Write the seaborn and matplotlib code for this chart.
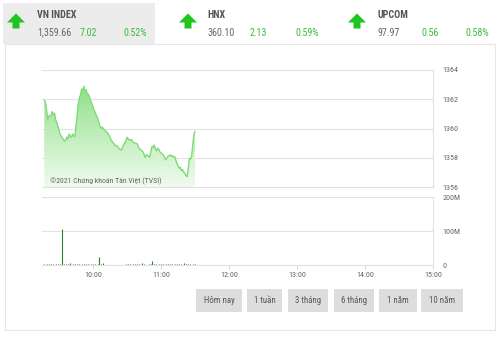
import numpy as np
import pandas as pd
import matplotlib
matplotlib.use("Agg")
import matplotlib.pyplot as plt
import seaborn as sns
from matplotlib.patches import Rectangle, Polygon, PathPatch
from matplotlib.colors import LinearSegmentedColormap

# ---------------- data ----------------
price_minutes = [17, 18, 19, 20, 21, 23, 24, 25, 26, 27, 28, 29, 30, 31, 33, 35, 36, 37, 38, 39,
                 40, 41, 42, 43, 44, 45, 46, 47, 48, 49, 50, 51, 52, 53, 54, 55, 56, 57, 58, 59,
                 61, 63, 64, 65, 66, 67, 68, 69, 70, 72, 74, 75, 76, 78, 80, 81, 83, 85, 86, 87,
                 89, 90, 91, 92, 94, 95, 96, 98, 99, 101, 102, 104, 106, 107, 108, 110, 111, 112, 113, 114,
                 115, 116, 117, 118, 119, 120, 122, 123, 124, 125, 126, 128, 129, 130, 131, 132, 133, 134, 135, 136,
                 137, 138, 139, 140, 141, 142, 143, 144, 145, 146, 147, 148, 149, 150]
price_values = [1361.95, 1361.80, 1361.30, 1360.60, 1360.85, 1360.90, 1361.15, 1360.95, 1361.05, 1360.60,
                1360.45, 1360.15, 1359.90, 1359.60, 1359.35, 1359.12, 1359.25, 1359.42, 1359.30, 1359.62,
                1359.48, 1359.40, 1359.62, 1359.50, 1359.45, 1360.20, 1360.90, 1361.70, 1362.10, 1362.30,
                1362.70, 1362.60, 1362.88, 1362.52, 1362.65, 1362.30, 1362.35, 1362.15, 1361.90, 1361.70,
                1361.25, 1360.90, 1360.75, 1360.45, 1360.20, 1360.00, 1360.10, 1360.00, 1359.90, 1359.78,
                1359.55, 1359.40, 1359.20, 1359.00, 1358.80, 1358.85, 1358.62, 1358.52, 1358.70, 1358.88,
                1359.15, 1359.40, 1359.30, 1359.20, 1359.25, 1359.10, 1359.03, 1358.98, 1358.95, 1358.60,
                1358.55, 1358.42, 1358.03, 1358.20, 1358.18, 1358.03, 1358.40, 1358.76, 1358.70, 1358.87,
                1358.60, 1358.49, 1358.65, 1358.58, 1358.40, 1358.35, 1358.19, 1358.05, 1357.85, 1357.95,
                1358.08, 1358.20, 1358.10, 1358.15, 1358.05, 1358.08, 1357.85, 1357.62, 1357.45, 1357.28,
                1357.35, 1357.12, 1357.20, 1357.00, 1356.95, 1356.78, 1356.70, 1357.20, 1357.95, 1357.90,
                1358.10, 1358.85, 1359.55, 1359.80]

vol_minutes = [17, 19, 21, 23, 25, 27, 29, 31, 32.5, 34, 36, 38, 40, 42, 44, 46, 48, 50, 52, 54,
               56, 58, 60, 62, 64, 65.5, 67, 69, 71, 73, 75, 77, 79, 81, 83, 85, 87, 89, 91, 93,
               95, 97, 99, 101, 103, 105, 107, 109, 111, 112, 114, 116, 118, 120, 122, 124, 126, 128, 130, 132,
               134, 136, 138, 140, 142, 144, 146, 148, 150]
vol_values = [3, 2, 2, 2, 2, 2, 2, 2, 105, 3, 3, 4, 7, 3, 2, 3, 2, 3, 2, 2,
              3, 2, 2, 2, 2, 24, 2, 6, 1, 1, 1, 1, 1, 1, 1, 1, 1, 2, 3, 2,
              4, 2, 2, 2, 7, 2, 1, 2, 2, 13, 2, 2, 2, 3, 2, 3, 2, 3, 2, 3,
              2, 2, 3, 7, 2, 3, 2, 2, 2]

price_ticks = [1356, 1358, 1360, 1362, 1364]
vol_ticks = [0, 100, 200]
vol_tick_labels = ["0", "100M", "200M"]
time_ticks = [10, 11, 12, 13, 14, 15]
time_labels = ["10:00", "11:00", "12:00", "13:00", "14:00", "15:00"]

indices = [
    # name, value, change, pct, arrow_x, text_x, chg_x, pct_x
    ("VN INDEX", "1,359.66", "7.02", "0.52%", 16, 37, 80, 124),
    ("HNX", "360.10", "2.13", "0.59%", 188, 207, 250, 295),
    ("UPCOM", "97.97", "0.56", "0.58%", 357, 378, 422, 466),
]
buttons = ["Hôm nay", "1 tuần", "3 tháng", "6 tháng", "1 năm", "10 năm"]
button_x = [(196, 242), (247, 282), (288, 328), (334, 374), (379, 417), (421, 463)]

# ---------------- style ----------------
sns.set_theme(style="white")
plt.rcParams["font.family"] = ["Roboto Condensed", "Roboto", "DejaVu Sans"]

W, H = 500, 337
fig = plt.figure(figsize=(W / 100, H / 100), dpi=100)
fig.patch.set_facecolor("white")

GRAY_TXT = "#666666"
GREEN_TXT = "#3dbb3d"
ARROW_GREEN = "#1ec51e"
GRID = "#e2e2e2"

# background overlay in pixel coordinates
bg = fig.add_axes([0, 0, 1, 1], zorder=0)
bg.set_xlim(0, W)
bg.set_ylim(H, 0)
bg.axis("off")

bg.add_patch(Rectangle((3, 3), 152, 41, facecolor="#ececec", edgecolor="none"))
bg.add_patch(Rectangle((5, 44), 490, 286, facecolor="none", edgecolor="#e6e6e6", lw=0.8))


def arrow(cx, top=13.5, bottom=28.5):
    pts = [(cx - 9, top + 9), (cx, top), (cx + 9, top + 9), (cx + 3.5, top + 9),
           (cx + 3.5, bottom), (cx - 3.5, bottom), (cx - 3.5, top + 9)]
    bg.add_patch(Polygon(pts, closed=True, facecolor=ARROW_GREEN, edgecolor="none"))


for name, val, chg, pct, ax_x, tx, cx, px in indices:
    arrow(ax_x)
    bg.text(tx, 15, name, fontsize=7.2, fontweight="bold", color="#555555", va="center", ha="left")
    bg.text(tx, 32.5, val, fontsize=7.2, color=GRAY_TXT, va="center", ha="left")
    bg.text(cx, 32.5, chg, fontsize=7.2, color=GREEN_TXT, va="center", ha="left")
    bg.text(px, 32.5, pct, fontsize=7.2, color=GREEN_TXT, va="center", ha="left")

for label, (x0, x1) in zip(buttons, button_x):
    bg.add_patch(Rectangle((x0, 289), x1 - x0, 23, facecolor="#dddddd", edgecolor="none"))
    bg.text((x0 + x1) / 2, 300.5, label, fontsize=6.3, color="#555555", ha="center", va="center")

# ---------------- price chart ----------------
def rect(x0, y0, x1, y1):
    return [x0 / W, (H - y1) / H, (x1 - x0) / W, (y1 - y0) / H]


ax1 = fig.add_axes(rect(42, 70, 433, 187), zorder=1)
ax1.patch.set_alpha(0)
df = pd.DataFrame({"t": np.array(price_minutes) / 60 + 9, "p": price_values})

poly = ax1.fill_between(df["t"], df["p"], 1356, color="none", lw=0)
path = poly.get_paths()[0]
clip = PathPatch(path, transform=ax1.transData, facecolor="none", edgecolor="none")
ax1.add_patch(clip)
cmap = LinearSegmentedColormap.from_list("g", ["#f0fbef", "#c2eebd", "#8fe089"])
grad = np.linspace(0, 1, 256).reshape(-1, 1)
im = ax1.imshow(grad, extent=[df["t"].min(), df["t"].max(), 1356, 1362.9], origin="lower",
                aspect="auto", cmap=cmap, zorder=1)
im.set_clip_path(clip)
sns.lineplot(data=df, x="t", y="p", ax=ax1, color="#7fda79", lw=1.0, zorder=2)

ax1.set_xlim(9.25, 15)
ax1.set_ylim(1356, 1364)
ax1.set_yticks(price_ticks)
ax1.yaxis.tick_right()
ax1.set_xticks([])
ax1.set_xlabel("")
ax1.set_ylabel("")
ax1.tick_params(axis="y", length=0, pad=7, labelsize=5.8, labelcolor=GRAY_TXT)
ax1.grid(axis="y", color=GRID, lw=0.8)
ax1.set_axisbelow(True)
for s in ["left", "top"]:
    ax1.spines[s].set_visible(False)
for s in ["right", "bottom"]:
    ax1.spines[s].set_color(GRID)
    ax1.spines[s].set_linewidth(0.8)

fig.text(50 / W, 1 - 181 / H, "©2021 Chứng khoán Tân Việt (TVSI)", fontsize=5.6,
         color=GRAY_TXT, ha="left", va="center")

# ---------------- volume chart ----------------
ax2 = fig.add_axes(rect(42, 197, 433, 265), zorder=1)
ax2.patch.set_alpha(0)
vt = np.array(vol_minutes) / 60 + 9
ax2.vlines(vt, 0, vol_values, color="#2f7f2f", lw=0.8)
ax2.set_xlim(9.25, 15)
ax2.set_ylim(0, 200)
ax2.set_yticks(vol_ticks)
ax2.set_yticklabels(vol_tick_labels)
ax2.yaxis.tick_right()
ax2.set_xticks(time_ticks)
ax2.set_xticklabels(time_labels)
ax2.tick_params(axis="y", length=0, pad=7, labelsize=5.8, labelcolor=GRAY_TXT)
ax2.tick_params(axis="x", length=3, width=0.6, color="#cccccc", pad=2, labelsize=5.8,
                labelcolor=GRAY_TXT, bottom=True)
ax2.grid(axis="y", color=GRID, lw=0.8)
ax2.set_axisbelow(True)
for s in ["left", "top"]:
    ax2.spines[s].set_visible(False)
for s in ["right", "bottom"]:
    ax2.spines[s].set_color(GRID)
    ax2.spines[s].set_linewidth(0.8)

fig.savefig("out.png", dpi=100, facecolor="white")
